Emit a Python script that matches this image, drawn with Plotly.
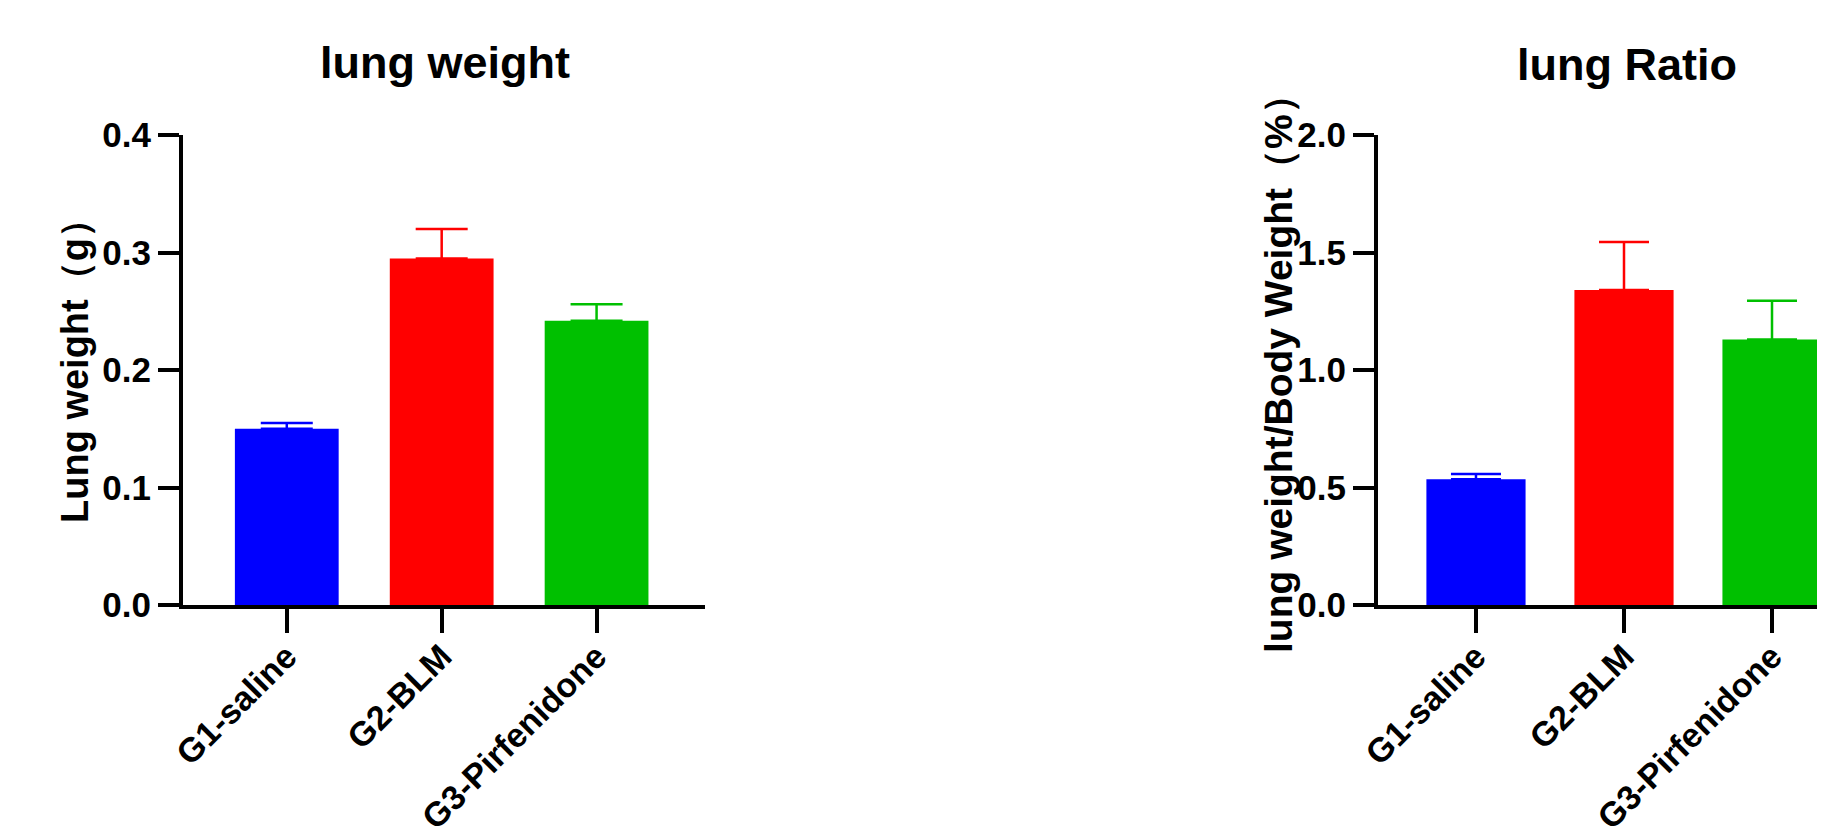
import plotly.graph_objects as go

groups = ["G1-saline", "G2-BLM", "G3-Pirfenidone"]
colors = ["#0000FF", "#FF0000", "#00C000"]

lung_weight = [0.150, 0.295, 0.242]
lung_weight_err = [0.005, 0.025, 0.014]

lung_ratio = [0.535, 1.340, 1.130]
lung_ratio_err = [0.022, 0.205, 0.165]

left_ticks = [0.0, 0.1, 0.2, 0.3, 0.4]
right_ticks = [0.0, 0.5, 1.0, 1.5, 2.0]

# page body has an 8px margin; figure fills the rest of the 1825x831 window
W, H = 1817, 823
FONT = "Arial, Liberation Sans, sans-serif"

fig = go.Figure()

for i, g in enumerate(groups):
    fig.add_trace(go.Bar(
        x=[g], y=[lung_weight[i]], width=0.67,
        marker=dict(color=colors[i], line=dict(width=0)),
        error_y=dict(type="data", array=[lung_weight_err[i]], arrayminus=[0],
                     symmetric=False, color=colors[i], thickness=2.5, width=26),
        xaxis="x", yaxis="y", showlegend=False))
    fig.add_trace(go.Bar(
        x=[g], y=[lung_ratio[i]], width=0.67,
        marker=dict(color=colors[i], line=dict(width=0)),
        error_y=dict(type="data", array=[lung_ratio_err[i]], arrayminus=[0],
                     symmetric=False, color=colors[i], thickness=2.5, width=25),
        xaxis="x2", yaxis="y2", showlegend=False))

ytickfont = dict(family=FONT, size=35, color="black", weight="bold")
xtickfont = dict(family=FONT, size=34, color="black", weight="bold")
ydom = [1 - 597 / H, 1 - 127 / H]

common_x = dict(type="category", categoryorder="array", categoryarray=groups,
                showline=True, linewidth=4, linecolor="black",
                ticks="outside", ticklen=24, tickwidth=4, tickcolor="black",
                tickangle=-45, tickfont=xtickfont, showgrid=False, zeroline=False,
                automargin=False, ticklabelstandoff=-10)
common_y = dict(showline=True, linewidth=4, linecolor="black",
                ticks="outside", ticklen=21, tickwidth=4, tickcolor="black",
                tickfont=ytickfont, showgrid=False, zeroline=False, domain=ydom,
                automargin=False)

fig.update_layout(
    width=W, height=H,
    margin=dict(l=0, r=0, t=0, b=0, pad=0),
    paper_bgcolor="white", plot_bgcolor="white",
    xaxis=dict(common_x, domain=[175 / W, 697 / W], range=[-0.67, 2.70], anchor="y"),
    yaxis=dict(common_y, range=[0, 0.4], tickvals=left_ticks,
               ticktext=[f"{v:.1f}" for v in left_ticks], anchor="x"),
    xaxis2=dict(common_x, domain=[1370 / W, 1.0], range=[-0.662, 2.358], anchor="y2"),
    yaxis2=dict(common_y, range=[0, 2.0], tickvals=right_ticks,
                ticktext=[f"{v:.1f}" for v in right_ticks], anchor="x2"),
    annotations=[
        dict(text="lung weight", x=436.5 / W, y=1 - 54 / H, xref="paper", yref="paper",
             xanchor="center", yanchor="middle", showarrow=False,
             font=dict(family=FONT, size=45, color="black", weight="bold")),
        dict(text="lung Ratio", x=1619 / W, y=1 - 56 / H, xref="paper", yref="paper",
             xanchor="center", yanchor="middle", showarrow=False,
             font=dict(family=FONT, size=45, color="black", weight="bold")),
        dict(text="Lung weight（g）", x=67 / W, y=1 - 354 / H, xref="paper", yref="paper",
             xanchor="center", yanchor="middle", showarrow=False, textangle=-90,
             font=dict(family=FONT, size=38, color="black", weight="bold")),
        dict(text="lung weight/Body Weight（%）", x=1271 / W, y=1 - 356 / H,
             xref="paper", yref="paper",
             xanchor="center", yanchor="middle", showarrow=False, textangle=-90,
             font=dict(family=FONT, size=39, color="black", weight="bold")),
    ],
)

fig.write_html("out.html")
